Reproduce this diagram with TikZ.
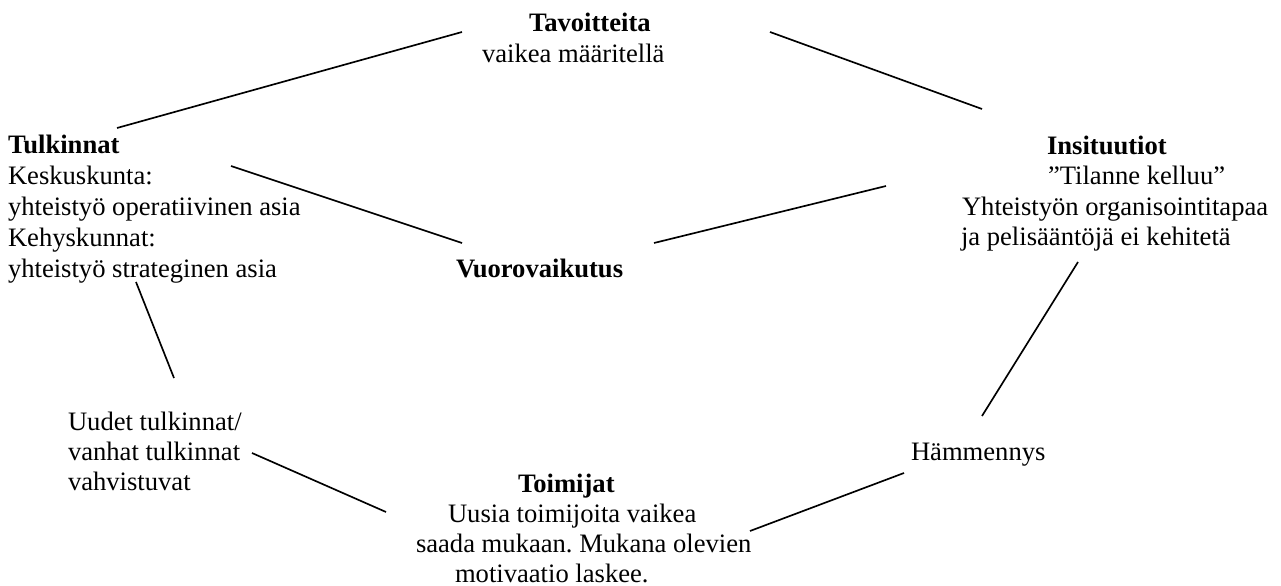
\documentclass[tikz,border=0pt]{standalone}
\usepackage{fontspec}
\setmainfont{Liberation Serif}
\frenchspacing
\begin{document}
\begin{tikzpicture}[x=0.451pt,y=-0.451pt,
  txt/.style={inner sep=0pt,outer sep=0pt,anchor=base west,font=\fontsize{12}{13.8}\selectfont},
  ttl/.style={txt,font=\fontsize{12}{13.8}\selectfont\bfseries},
  conn/.style={line width=0.75pt,black}]
\useasboundingbox (0,0) rectangle (1281,586);
% texts
\node[ttl] (tav1) at (529,32) {Tavoitteita};
\node[txt] (tav2) at (482,63) {vaikea määritellä};
\node[ttl] (tul1) at (8,154) {Tulkinnat};
\node[txt] (tul2) at (8,185) {Keskuskunta:};
\node[txt] (tul3) at (8,215) {yhteistyö operatiivinen asia};
\node[txt] (tul4) at (8,246) {Kehyskunnat:};
\node[txt] (tul5) at (8,277) {yhteistyö strateginen asia};
\node[ttl] (vuo) at (456,277) {Vuorovaikutus};
\node[ttl] (ins1) at (1047,155) {Insituutiot};
\node[txt] (ins2) at (1048,185) {”Tilanne kelluu”};
\node[txt] (ins3) at (962,215) {Yhteistyön organisointitapaa};
\node[txt] (ins4) at (961,245) {ja pelisääntöjä ei kehitetä};
\node[txt] (uud1) at (68,430) {Uudet tulkinnat/};
\node[txt] (uud2) at (68,460) {vanhat tulkinnat};
\node[txt] (uud3) at (68,490) {vahvistuvat};
\node[txt] (ham) at (911,460) {Hämmennys};
\node[ttl] (tom1) at (518,492) {Toimijat};
\node[txt] (tom2) at (448,522) {Uusia toimijoita vaikea};
\node[txt] (tom3) at (416,552) {saada mukaan. Mukana olevien};
\node[txt] (tom4) at (455,582) {motivaatio laskee.};
% connector end points
\coordinate (tavL) at (462,32);
\coordinate (tulT) at (117,128);
\coordinate (tavR) at (770,32);
\coordinate (insT) at (982,109);
\coordinate (tulR) at (231,166);
\coordinate (vuoL) at (462,243);
\coordinate (vuoR) at (654,243);
\coordinate (insL) at (886,186);
\coordinate (insB) at (1078,262);
\coordinate (hamT) at (982,416);
\coordinate (tulB) at (136,282);
\coordinate (uudT) at (174,378);
\coordinate (uudR) at (252,453);
\coordinate (tomL) at (386,512);
\coordinate (hamL) at (904,473);
\coordinate (tomR) at (750,531);
% connectors
\draw[conn] (tavL) -- (tulT);
\draw[conn] (tavR) -- (insT);
\draw[conn] (tulR) -- (vuoL);
\draw[conn] (vuoR) -- (insL);
\draw[conn] (insB) -- (hamT);
\draw[conn] (tulB) -- (uudT);
\draw[conn] (uudR) -- (tomL);
\draw[conn] (hamL) -- (tomR);
\end{tikzpicture}
\end{document}
